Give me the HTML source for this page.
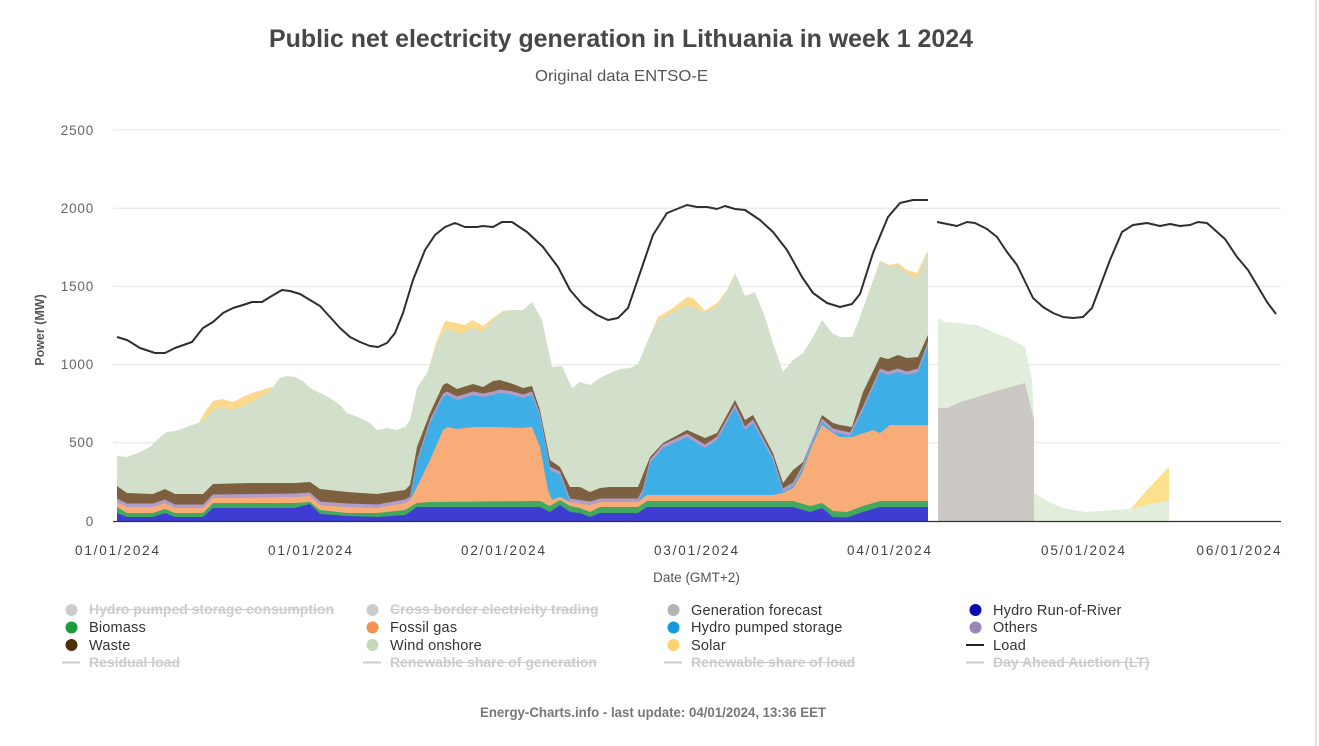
<!DOCTYPE html>
<html><head><meta charset="utf-8"><style>
html,body{margin:0;padding:0;background:#fff;}
body{width:1319px;height:746px;position:relative;overflow:hidden;font-family:"Liberation Sans",sans-serif;}
.lg{position:absolute;font-size:14.5px;line-height:17px;color:#333;white-space:nowrap;letter-spacing:0.2px;margin-top:1.5px;}
.hid{color:#cccccc;text-decoration:line-through;font-weight:bold;font-size:14px;letter-spacing:0;margin-top:0;}
</style></head><body>
<svg width="1319" height="746" viewBox="0 0 1319 746" style="position:absolute;left:0;top:0" font-family="Liberation Sans, sans-serif">
<text x="621" y="47" text-anchor="middle" font-size="25" font-weight="bold" fill="#474747" textLength="704" lengthAdjust="spacingAndGlyphs">Public net electricity generation in Lithuania in week 1 2024</text>
<text x="621.5" y="81" text-anchor="middle" font-size="16" fill="#555" textLength="173" lengthAdjust="spacingAndGlyphs">Original data ENTSO-E</text>
<g stroke="#e6e6e6" stroke-width="1">
<line x1="113" y1="130" x2="1281" y2="130"/>
<line x1="113" y1="208.2" x2="1281" y2="208.2"/>
<line x1="113" y1="286.4" x2="1281" y2="286.4"/>
<line x1="113" y1="364.6" x2="1281" y2="364.6"/>
<line x1="113" y1="442.8" x2="1281" y2="442.8"/>
</g>
<g font-size="13.5" fill="#666" text-anchor="end" letter-spacing="0.8">
<text x="94" y="135">2500</text>
<text x="94" y="213">2000</text>
<text x="94" y="291">1500</text>
<text x="94" y="369">1000</text>
<text x="94" y="447">500</text>
<text x="94" y="526">0</text>
</g>
<text transform="translate(44,330) rotate(-90)" text-anchor="middle" font-size="12.5" font-weight="bold" fill="#555">Power (MW)</text>
<g fill="#fbd98d">
<polygon points="200,421 205,412 213,401 222,399 233,402 243,397 252,393 262,390 272,387 275,390 275,521 200,521"/>
<polygon points="426,378 436,343 445,321 457,323 465,325 473,320 483,326 493,318 503,311 510,310 510,521 426,521"/>
<polygon points="648,340 658,317 673,308 687,297 693,298 705,311 717,303 727,290 735,273 740,285 740,521 648,521"/>
<polygon points="860,317 870,289 880,261 890,265 898,263 907,270 917,273 927,252 928,252 928,521 860,521"/>
</g>
<polygon fill="#d2e0cb" points="117,521 117,456 127,457 140,452 150,447 160,437 167,432 175,431 187,427 203,421 213,410 222,407 233,410 250,403 270,391 280,378 287,376 295,377 303,381 310,388 320,393 330,398 340,405 347,413 360,418 370,423 377,430 387,428 397,430 405,427 410,420 417,388 427,373 437,343 446,328 453,332 463,333 473,328 483,332 493,320 503,312 510,310 523,310 532,302 542,320 552,367 562,366 572,388 580,382 590,385 600,378 610,373 620,369 630,368 638,364 648,340 658,320 673,312 687,305 705,312 717,307 733,280 735,273 745,296 755,292 765,317 773,343 783,372 793,360 803,353 813,337 822,320 832,333 840,337 852,337 860,317 870,290 880,262 892,267 898,266 907,273 917,279 927,253 928,253 928,521"/>
<polygon fill="#7c6040" points="117,521 117,486 127,493 153,494 165,489 175,494 203,494 213,484 250,483 295,483 310,482 320,489 347,492 377,494 405,490 410,485 417,447 430,413 443,385 447,383 457,389 473,384 483,387 493,381 500,380 513,384 523,388 532,386 540,410 550,460 560,467 570,487 580,487 590,492 600,488 610,487 638,487 650,457 663,443 687,430 705,438 717,433 735,400 745,420 753,415 773,453 783,483 793,470 803,462 822,415 833,423 840,425 852,427 863,392 880,357 888,359 898,355 907,358 918,357 928,335 928,521"/>
<polygon fill="#b19cca" transform="translate(0,-3.5)" points="117,521 117,502 127,507 153,507 165,503 175,508 203,508 213,498 295,497 310,496 320,505 347,507 377,508 405,503 410,500 417,463 430,423 443,397 447,395 457,400 473,395 483,397 493,395 500,393 513,395 523,398 532,395 540,417 550,470 560,475 570,502 590,505 600,502 638,502 643,492 650,463 663,448 687,437 705,448 717,440 735,408 745,430 753,423 773,460 783,492 793,486 802,470 813,440 822,422 833,432 850,436 863,410 880,372 888,375 898,372 907,375 918,372 928,345 928,521"/>
<polygon fill="#3eaee6" points="117,521 117,502 127,507 153,507 165,503 175,508 203,508 213,498 295,497 310,496 320,505 347,507 377,508 405,503 410,500 417,463 430,423 443,397 447,395 457,400 473,395 483,397 493,395 500,393 513,395 523,398 532,395 540,417 550,470 560,475 570,502 590,505 600,502 638,502 643,492 650,463 663,448 687,437 705,448 717,440 735,408 745,430 753,423 773,460 783,492 793,486 802,470 813,440 822,422 833,432 850,436 863,410 880,372 888,375 898,372 907,375 918,372 928,345 928,521"/>
<polygon fill="#f8ad79" points="117,521 117,502 127,507 153,507 165,503 175,508 203,508 213,498 295,497 310,496 320,505 347,507 377,508 405,503 410,500 417,487 430,460 443,430 447,427 457,429 473,427 483,427 500,427 520,428 532,427 540,447 548,490 552,500 560,497 570,502 590,505 600,502 638,502 647,495 773,495 783,493 793,488 802,473 813,443 822,425 833,433 840,437 852,437 873,430 880,433 890,425 928,425 928,521"/>
<polygon fill="#41a85f" points="117,521 117,507 127,513 153,513 165,509 175,513 203,513 213,503 295,503 310,502 320,510 347,513 377,513 405,510 410,507 417,503 430,502 540,501 550,506 560,500 570,506 580,508 590,512 600,507 638,507 647,501 793,501 810,506 822,503 833,511 847,512 863,506 880,501 928,501 928,521"/>
<polygon fill="#3d3dd3" points="117,521 117,513 127,517 153,517 165,513 175,517 203,517 213,508 295,508 310,504 320,514 347,516 377,517 405,515 410,512 417,507 540,507 550,512 560,505 570,512 580,513 590,517 600,513 638,513 647,507 793,507 810,512 822,508 833,517 847,517.5 863,512 880,507 928,507 928,521"/>
<polygon fill="#e0eedb" points="938,521 938,318 945,322 958,323 977,325 993,332 1010,339 1025,347 1032,380 1034,420 1034,493 1047,501 1060,507 1073,510 1087,512 1113,510 1130,509 1140,506 1169,500 1169,521"/>
<polygon fill="#fde08e" points="1130,509.5 1147,490 1169,467 1169,500 1150,504"/>
<polygon fill="#ccc8c5" points="938,521 938,408 947,408 958,403 977,397 993,392 1010,387 1025,383 1034,420 1034,521"/>
<line x1="113" y1="521.5" x2="1281" y2="521.5" stroke="#333" stroke-width="1.2"/>
<g fill="none" stroke="#2e2e2e" stroke-width="2" stroke-linejoin="round">
<polyline points="117,337 127,340 140,348 155,353 165,353 175,348 192,342 203,328 213,322 223,313 233,308 243,305 252,302 262,302 270,297 282,290 290,291 300,294 310,300 320,306 330,317 340,328 350,337 360,342 370,346 378,347 387,343 395,333 403,313 413,280 425,250 435,235 445,227 455,223 465,227 477,227 483,226 493,227 502,222 512,222 527,232 543,247 558,267 570,290 583,305 597,315 608,320 618,318 628,308 640,273 653,235 667,213 687,205 697,207 707,207 717,209 725,206 735,209 745,210 760,220 773,232 787,250 802,277 813,293 827,303 840,307 852,304 860,294 873,253 888,217 900,203 913,200 928,200"/>
<polyline points="937,222 957,226 967,222 975,223 987,229 997,237 1007,252 1017,265 1033,298 1043,307 1053,313 1063,317 1073,318 1083,317 1092,308 1110,260 1122,232 1133,225 1147,223 1160,226 1170,224 1180,226 1190,225 1198,222 1207,223 1225,239 1237,257 1248,270 1267,302 1276,314"/>
</g>
<g font-size="13.5" fill="#444" text-anchor="middle">
<text x="117" y="555" textLength="84" lengthAdjust="spacing">01/01/2024</text>
<text x="310" y="555" textLength="84" lengthAdjust="spacing">01/01/2024</text>
<text x="503" y="555" textLength="84" lengthAdjust="spacing">02/01/2024</text>
<text x="696" y="555" textLength="84" lengthAdjust="spacing">03/01/2024</text>
<text x="889" y="555" textLength="84" lengthAdjust="spacing">04/01/2024</text>
<text x="1083" y="555" textLength="84" lengthAdjust="spacing">05/01/2024</text>
<text x="1238.5" y="555" textLength="84" lengthAdjust="spacing">06/01/2024</text>
</g>
<text x="696.5" y="582" text-anchor="middle" font-size="13.5" fill="#555">Date (GMT+2)</text>
<circle cx="71.5" cy="610" r="6" fill="#cccccc"/>
<circle cx="71.5" cy="627.5" r="6" fill="#1c9a3c"/>
<circle cx="71.5" cy="645" r="6" fill="#4e2f0c"/>
<line x1="62" y1="662.5" x2="80" y2="662.5" stroke="#cccccc" stroke-width="2"/>
<circle cx="372.5" cy="610" r="6" fill="#cccccc"/>
<circle cx="372.5" cy="627.5" r="6" fill="#f39552"/>
<circle cx="372.5" cy="645" r="6" fill="#c2dab8"/>
<line x1="363" y1="662.5" x2="381" y2="662.5" stroke="#cccccc" stroke-width="2"/>
<circle cx="673.5" cy="610" r="6" fill="#b3b3b3"/>
<circle cx="673.5" cy="627.5" r="6" fill="#1499dc"/>
<circle cx="673.5" cy="645" r="6" fill="#fdd26f"/>
<line x1="664" y1="662.5" x2="682" y2="662.5" stroke="#cccccc" stroke-width="2"/>
<circle cx="975.5" cy="610" r="6" fill="#0b0bb5"/>
<circle cx="975.5" cy="627.5" r="6" fill="#9a84b8"/>
<line x1="966" y1="645" x2="984" y2="645" stroke="#222" stroke-width="2"/>
<line x1="966" y1="662.5" x2="984" y2="662.5" stroke="#cccccc" stroke-width="2"/>
<text x="653" y="717" text-anchor="middle" font-size="13.5" font-weight="bold" fill="#777" textLength="346" lengthAdjust="spacingAndGlyphs">Energy-Charts.info - last update: 04/01/2024, 13:36 EET</text>
</svg>
<div class="lg hid" style="left:89px;top:601px">Hydro pumped storage consumption</div>
<div class="lg" style="left:89px;top:618.5px">Biomass</div>
<div class="lg" style="left:89px;top:636px">Waste</div>
<div class="lg hid" style="left:89px;top:653.5px">Residual load</div>
<div class="lg hid" style="left:390px;top:601px">Cross border electricity trading</div>
<div class="lg" style="left:390px;top:618.5px">Fossil gas</div>
<div class="lg" style="left:390px;top:636px">Wind onshore</div>
<div class="lg hid" style="left:390px;top:653.5px">Renewable share of generation</div>
<div class="lg" style="left:691px;top:601px">Generation forecast</div>
<div class="lg" style="left:691px;top:618.5px">Hydro pumped storage</div>
<div class="lg" style="left:691px;top:636px">Solar</div>
<div class="lg hid" style="left:691px;top:653.5px">Renewable share of load</div>
<div class="lg" style="left:993px;top:601px">Hydro Run-of-River</div>
<div class="lg" style="left:993px;top:618.5px">Others</div>
<div class="lg" style="left:993px;top:636px">Load</div>
<div class="lg hid" style="left:993px;top:653.5px">Day Ahead Auction (LT)</div>
<div style="position:absolute;left:1315px;top:0;width:2px;height:746px;background:#e4e4e4"></div>
</body></html>
